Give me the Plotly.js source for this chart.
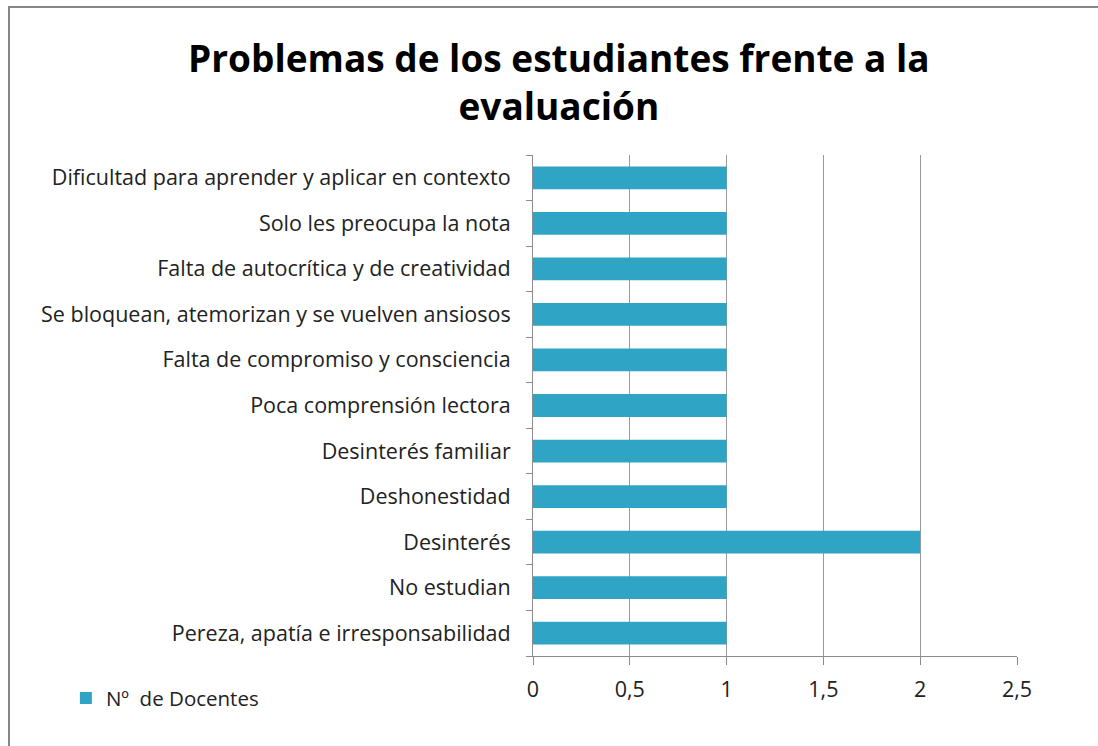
<!DOCTYPE html>
<html>
<head>
<meta charset="utf-8">
<script src="https://cdn.plot.ly/plotly-3.0.1.min.js"></script>
<style>
html,body{margin:0;padding:0;background:#fff;}
#chart{width:1098px;height:746px;position:relative;}
#frame{position:absolute;left:8px;top:6px;width:1200px;height:800px;border-left:2px solid #878787;border-top:2px solid #878787;pointer-events:none;}
</style>
</head>
<body>
<div style="position:relative;width:1098px;height:746px;overflow:hidden;">
<div id="chart"></div>
<div id="frame"></div>
</div>
<script>
var categories = [
  "Pereza, apatía e irresponsabilidad",
  "No estudian",
  "Desinterés",
  "Deshonestidad",
  "Desinterés familiar",
  "Poca comprensión lectora",
  "Falta de compromiso y consciencia",
  "Se bloquean, atemorizan y se vuelven ansiosos",
  "Falta de autocrítica y de creatividad",
  "Solo les preocupa la nota",
  "Dificultad para aprender y aplicar en contexto"
];
var docentes = [1, 1, 2, 1, 1, 1, 1, 1, 1, 1, 1];
var seriesName = "Nº  de Docentes";
var xTickVals = [0, 0.5, 1, 1.5, 2, 2.5];
var xTickText = ["0", "0,5", "1", "1,5", "2", "2,5"];

var trace = {
  type: "bar",
  orientation: "h",
  y: categories,
  x: docentes,
  name: seriesName,
  marker: {color: "#30a4c4", line: {color: "#2a8aa6", width: 0}},
  hoverinfo: "x+y"
};

var FONT = "'Open Sans', Lato, sans-serif";

var layout = {
  width: 1098,
  height: 746,
  paper_bgcolor: "#ffffff",
  plot_bgcolor: "#ffffff",
  margin: {l: 533, r: 81, t: 155, b: 90},
  font: {family: FONT, color: "#222", size: 21},
  title: {
    text: "Problemas de los estudiantes frente a la<br>evaluación",
    font: {family: FONT, size: 37, color: "#000", weight: "bold"},
    xref: "container", x: 0.509, xanchor: "center",
    yref: "container", y: 0.903, yanchor: "top"
  },
  bargap: 0.5,
  showlegend: true,
  legend: {
    xref: "container", yref: "container",
    x: 0.06, y: 0.064, xanchor: "left", yanchor: "middle",
    font: {family: FONT, size: 20.5, color: "#222"},
    itemwidth: 30
  },
  xaxis: {
    range: [0, 2.5],
    tickvals: xTickVals,
    ticktext: xTickText,
    showgrid: true,
    gridcolor: "#9a9a9a",
    gridwidth: 1,
    zeroline: false,
    showline: true,
    linecolor: "#8c8c8c",
    linewidth: 1,
    ticks: "outside",
    ticklen: 8,
    tickcolor: "#8c8c8c",
    ticklabelstandoff: 6,
    tickfont: {family: FONT, size: 21.5, color: "#222"},
    fixedrange: true
  },
  yaxis: {
    type: "category",
    showgrid: false,
    zeroline: false,
    showline: true,
    linecolor: "#8c8c8c",
    linewidth: 1,
    ticks: "outside",
    tickson: "boundaries",
    ticklen: 6,
    tickcolor: "#8c8c8c",
    ticklabelstandoff: 17,
    tickfont: {family: FONT, size: 21.5, color: "#222"},
    fixedrange: true
  }
};

Plotly.newPlot("chart", [trace], layout, {displayModeBar: false, staticPlot: true});
</script>
</body>
</html>
